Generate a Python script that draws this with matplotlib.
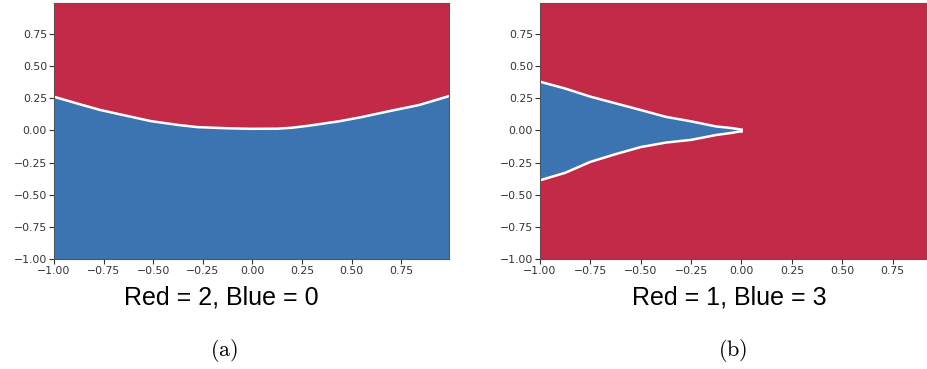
import numpy as np
import matplotlib
matplotlib.use('Agg')
import matplotlib.pyplot as plt

plt.rcParams['mathtext.fontset'] = 'cm'
plt.rcParams['axes.unicode_minus'] = True

# Panel (a): boundary between red (above) and blue (below)
xa = [-1.0, -0.875, -0.766, -0.625, -0.513, -0.375, -0.276, -0.125, -0.005, 0.125, 0.198, 0.283, 0.435, 0.55, 0.67, 0.84, 0.99]
ya = [0.261, 0.205, 0.158, 0.11, 0.072, 0.042, 0.025, 0.016, 0.012, 0.013, 0.02, 0.036, 0.07, 0.103, 0.143, 0.197, 0.266]

# Panel (b): blue wedge, upper and lower edges
xb = [-1.0, -0.875, -0.75, -0.625, -0.5, -0.375, -0.25, -0.125, -0.05, 0.0]
yb_top = [0.378, 0.325, 0.262, 0.21, 0.158, 0.105, 0.07, 0.03, 0.018, 0.006]
yb_bot = [-0.388, -0.33, -0.245, -0.185, -0.13, -0.095, -0.074, -0.036, -0.02, -0.006]

captions = ['Red = 2, Blue = 0', 'Red = 1, Blue = 3']
letters = ['(a)', '(b)']

red = '#c22a48'
blue = '#3c74b2'

fig = plt.figure(figsize=(9.28, 3.69), dpi=100)
ax1 = fig.add_axes([0.0582, 0.298, 0.4256, 0.694])
ax2 = fig.add_axes([0.5819, 0.298, 0.432, 0.694])

# (a)
ax1.fill_between(xa, ya, 1.0, color=red, lw=0)
ax1.fill_between(xa, -1.0, ya, color=blue, lw=0)
ax1.plot(xa, ya, color='white', lw=1.8)

# (b)
ax2.set_facecolor(red)
ax2.fill_between(xb, yb_bot, yb_top, color=blue, lw=0)
ax2.plot(xb, yb_top, color='white', lw=1.8)
ax2.plot(xb, yb_bot, color='white', lw=1.8)
ax2.plot([xb[-1], xb[-1]], [yb_bot[-1], yb_top[-1]], color='white', lw=1.8)

ticks = [-1.0, -0.75, -0.5, -0.25, 0.0, 0.25, 0.5, 0.75]
labels = [('%.2f' % t).replace('-', '\u2212') for t in ticks]
for ax in [ax1, ax2]:
    ax.set_xlim(-1.0, 0.99)
    ax.set_ylim(-1.0, 0.99)
    ax.set_xticks(ticks)
    ax.set_yticks(ticks)
    ax.set_xticklabels(labels)
    ax.set_yticklabels(labels)
    ax.tick_params(labelsize=7.8, colors='#333333', length=3.5, width=0.8, pad=1.5)
    for s in ax.spines.values():
        s.set_color('#555555')
        s.set_linewidth(0.8)

for i, cx in enumerate([0.238, 0.786]):
    fig.text(cx, 0.195, captions[i], ha='center', va='center', fontsize=18, family='Liberation Sans')
    fig.text(cx + 0.004, 0.051, r'$\mathrm{%s}$' % letters[i], ha='center', va='center', fontsize=16)

fig.savefig('out.png', dpi=100)
